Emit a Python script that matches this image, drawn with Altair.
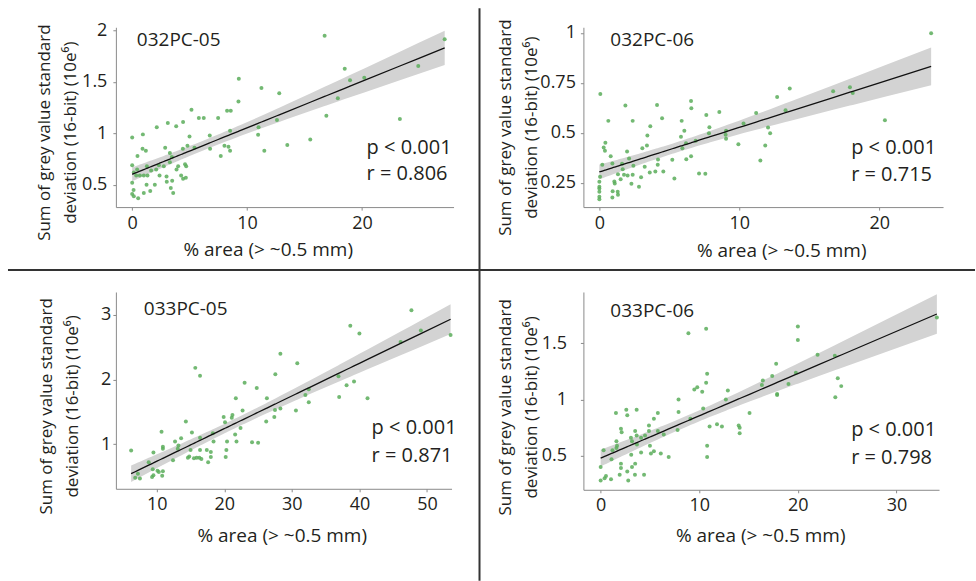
import altair as alt
import pandas as pd

# ---------------- data ----------------
names = ["032PC-05", "032PC-06", "033PC-05", "033PC-06"]
p_texts = ["p < 0.001", "p < 0.001", "p < 0.001", "p < 0.001"]
r_texts = ["r = 0.806", "r = 0.715", "r = 0.871", "r = 0.798"]
x_title = "% area (> ~0.5 mm)"
y_title = ["Sum of grey value standard", "deviation (16-bit) (10e\u2076)"]

x_ticks = [[0, 10, 20], [0, 10, 20], [10, 20, 30, 40, 50], [0, 10, 20, 30]]
y_ticks = [[0.5, 1, 1.5, 2], [0.25, 0.5, 0.75, 1], [1, 2, 3], [0.5, 1, 1.5]]

# 032PC-05
p1_x = [16.75, 27.2, 24.9, 18.5, 18.96, 20.2, 17.9, 16.9, 23.3, 9.28, 11.25, 12.8, 9.25, 12.6,
        11.0, 10.96, 15.5, 13.5, 11.5, 8.26, 8.58, 7.48, 5.16, 5.8, 6.23, 8.52, 6.75, 8.03,
        8.38, 8.52, 7.71, 6.78, 5.42, 4.99, 4.43, 3.83, 3.1, 2.14, 0.93, 0.0, 0.9, 1.19, 0.46,
        2.87, 3.28, 3.45, 4.41, 4.81, 4.6, 4.7, 4.0, 3.86, 3.28, 2.75, 2.32, 2.09, 1.65, 1.28,
        1.33, 1.01, 0.67, 0.43, 0.0, 0.14, 0.35, 0.0, 0.12, 0.0, 0.14, 0.52, 1.01, 1.57, 1.25,
        1.97, 2.38, 2.99, 3.01, 3.48, 3.57, 3.36, 4.26, 4.43, 4.67]
p1_y = [1.948, 1.913, 1.654, 1.628, 1.515, 1.54, 1.34, 1.17, 1.14, 1.53, 1.44, 1.39, 1.31, 1.13,
        1.06, 0.987, 0.94, 0.887, 0.83, 1.22, 1.22, 1.15, 1.23, 1.15, 1.15, 1.026, 0.98, 0.88,
        0.87, 0.83, 0.78, 0.85, 0.86, 0.97, 1.11, 1.07, 1.10, 1.06, 0.99, 0.96, 0.85, 0.83, 0.78,
        0.86, 0.81, 0.77, 0.85, 0.88, 0.70, 0.68, 0.68, 0.65, 0.72, 0.68, 0.69, 0.65, 0.64, 0.68,
        0.59, 0.59, 0.59, 0.65, 0.69, 0.62, 0.59, 0.52, 0.45, 0.41, 0.39, 0.37, 0.42, 0.44, 0.50,
        0.50, 0.59, 0.58, 0.53, 0.54, 0.42, 0.47, 0.59, 0.56, 0.57]

# 032PC-06
p2_x = [23.7, 20.4, 16.7, 17.9, 18.1, 13.6, 12.7, 13.3, 11.2, 10.3, 12.05, 12.2, 11.85, 11.5,
        9.93, 9.05, 9.02, 9.05, 8.57, 7.64, 7.86, 7.83, 6.88, 6.55, 6.57, 5.88, 6.07, 5.83, 6.19,
        5.93, 6.55, 6.21, 7.12, 7.57, 5.36, 5.21, 4.48, 4.12, 3.64, 3.43, 3.4, 3.07, 4.19, 4.17,
        4.57, 4.0, 3.6, 3.24, 2.38, 1.86, 1.98, 2.12, 2.43, 2.29, 2.83, 2.98, 2.38, 2.02, 1.76,
        1.67, 1.62, 1.33, 1.52, 1.07, 0.93, 0.81, 0.64, 0.43, 0.31, 0.4, 0.21, 0.07, 1.1, 0.95,
        1.31, 1.33, 0.93, 0.05, 0.0, 0.0, 0.0, 0.0, 0.0, 0.0]
p2_y = [0.998, 0.563, 0.708, 0.728, 0.70, 0.722, 0.68, 0.613, 0.60, 0.547, 0.527, 0.498, 0.437,
        0.362, 0.443, 0.51, 0.49, 0.47, 0.605, 0.59, 0.528, 0.498, 0.46, 0.66, 0.623, 0.56, 0.51,
        0.48, 0.448, 0.423, 0.383, 0.368, 0.297, 0.295, 0.272, 0.365, 0.573, 0.64, 0.533, 0.487,
        0.437, 0.423, 0.367, 0.34, 0.307, 0.307, 0.302, 0.33, 0.56, 0.637, 0.407, 0.372, 0.335,
        0.245, 0.23, 0.278, 0.29, 0.287, 0.29, 0.318, 0.345, 0.293, 0.268, 0.257, 0.347, 0.383,
        0.56, 0.45, 0.427, 0.41, 0.34, 0.695, 0.247, 0.208, 0.205, 0.19, 0.177, 0.28, 0.255, 0.23,
        0.222, 0.205, 0.18, 0.168]

# 033PC-05
p3_x = [47.7, 38.65, 40.0, 49.1, 53.5, 46.1, 28.3, 30.8, 27.55, 36.9, 39.2, 38.1, 41.2, 37.0,
        32.0, 32.5, 32.5, 15.7, 16.4, 23.0, 24.8, 21.7, 26.3, 30.6, 27.5, 27.4, 28.3, 26.2, 22.7,
        22.4, 21.6, 21.8, 24.1, 25.0, 20.4, 20.3, 20.2, 19.9, 20.1, 21.2, 21.1, 18.4, 18.3, 18.0,
        18.0, 17.4, 17.6, 16.6, 16.4, 16.4, 16.3, 15.9, 15.5, 15.2, 15.0, 14.8, 14.6, 14.3, 13.6,
        13.2, 13.1, 12.7, 12.4, 10.7, 10.9, 10.9, 9.5, 8.8, 9.4, 9.5, 9.3, 10.1, 10.3, 10.9, 10.8,
        6.2, 6.8, 7.5, 7.2]
p3_y = [3.07, 2.83, 2.71, 2.76, 2.69, 2.58, 2.40, 2.25, 2.08, 2.05, 1.97, 1.91, 1.71, 1.73,
        1.76, 1.65, 1.85, 2.18, 2.06, 1.95, 1.87, 1.71, 1.71, 1.52, 1.53, 1.42, 1.55, 1.35, 1.52,
        1.25, 1.15, 1.04, 1.03, 1.02, 1.04, 0.91, 0.80, 1.42, 1.34, 1.45, 1.41, 1.04, 1.17, 0.88,
        0.80, 0.91, 0.72, 0.77, 0.91, 1.10, 0.79, 0.79, 0.78, 1.18, 0.91, 0.81, 0.79, 1.35, 1.09,
        0.98, 0.93, 1.04, 0.75, 1.19, 0.96, 0.93, 0.87, 0.72, 0.61, 0.52, 0.49, 0.59, 0.57, 0.58,
        0.51, 0.90, 0.48, 0.47, 0.54]

# 033PC-06
p4_x = [34.1, 20.0, 20.0, 10.7, 8.9, 22.0, 23.75, 17.8, 17.4, 16.45, 16.35, 19.05, 19.8, 24.05,
        24.4, 23.8, 17.9, 17.9, 10.8, 10.7, 10.3, 9.8, 9.5, 12.9, 12.7, 10.4, 7.9, 7.9, 7.8, 11.05,
        11.8, 12.3, 14.0, 14.1, 14.1, 15.1, 10.8, 10.8, 9.1, 6.9, 6.1, 6.4, 5.8, 5.8, 5.4, 4.9,
        4.9, 5.0, 5.1, 5.4, 4.1, 4.1, 3.65, 3.5, 3.65, 2.6, 2.7, 1.55, 2.06, 2.13, 3.07, 3.18,
        3.68, 3.1, 3.5, 3.48, 3.18, 2.7, 2.8, 4.4, 2.06, 2.06, 1.93, 1.6, 1.6, 1.2, 1.1, 1.05,
        0.54, 0.4, 0.3, 0.0, 0.0, 1.66, 4.5]
p4_y = [1.73, 1.65, 1.53, 1.63, 1.59, 1.40, 1.39, 1.32, 1.21, 1.17, 1.13, 1.14, 1.24, 1.19,
        1.12, 1.02, 1.05, 1.04, 1.23, 1.15, 1.07, 1.11, 1.09, 1.08, 1.00, 0.92, 1.00, 0.89, 0.73,
        0.76, 0.78, 0.76, 0.77, 0.75, 0.70, 0.88, 0.59, 0.49, 0.83, 0.49, 0.52, 0.69, 0.72, 0.88,
        0.83, 0.77, 0.72, 0.59, 0.52, 0.54, 0.53, 0.66, 0.68, 0.72, 0.91, 0.91, 0.86, 0.88, 0.74,
        0.71, 0.66, 0.63, 0.60, 0.51, 0.43, 0.33, 0.40, 0.36, 0.28, 0.33, 0.43, 0.39, 0.33, 0.63,
        0.57, 0.55, 0.47, 0.29, 0.32, 0.30, 0.55, 0.40, 0.28, 0.59, 0.68]

# ---------------- style ----------------
FONT = "Open Sans"
TXT = "#231f20"
AXC = "#8a8a8a"
PT = "#5aad5a"


def regression(ch):
    return (
        ch.transform_joinaggregate(mx="mean(x)", my="mean(y)", n="count()")
        .transform_calculate(
            dxx="(datum.x - datum.mx) * (datum.x - datum.mx)",
            dxy="(datum.x - datum.mx) * (datum.y - datum.my)",
        )
        .transform_joinaggregate(sxx="sum(dxx)", sxy="sum(dxy)")
        .transform_calculate(b="datum.sxy / datum.sxx")
        .transform_calculate(a="datum.my - datum.b * datum.mx")
        .transform_calculate(
            fit="datum.a + datum.b * datum.x",
            res2="pow(datum.y - datum.a - datum.b * datum.x, 2)",
        )
        .transform_joinaggregate(sse="sum(res2)")
        .transform_calculate(
            se="sqrt(datum.sse / (datum.n - 2)) * sqrt(1 / datum.n + datum.dxx / datum.sxx)"
        )
        .transform_calculate(lo="datum.fit - 1.99 * datum.se", hi="datum.fit + 1.99 * datum.se")
    )


def text_layer(s, x, y, size):
    return (
        alt.Chart(pd.DataFrame({"t": [s]}))
        .mark_text(align="left", baseline="alphabetic", font=FONT, fontSize=size, color=TXT)
        .encode(x=alt.value(x), y=alt.value(y), text="t:N")
    )


def panel(i, xs, ys, w, h, xdom, ydom, ytx, yty, ylpad, xtx, xty, lab, pxy, rxy, extra=()):
    df = pd.DataFrame({"x": xs, "y": ys})
    xaxis = alt.Axis(values=x_ticks[i], title=x_title, titleX=xtx, titleY=xty,
                     titleBaseline="alphabetic", titleFontSize=19, labelExpr="'' + datum.value")
    yaxis = alt.Axis(values=y_ticks[i], title=y_title, titleX=ytx, titleY=yty,
                     titleBaseline="alphabetic", titleFontSize=17, titleLineHeight=26,
                     labelPadding=ylpad, labelExpr="'' + datum.value")
    xs_ = alt.Scale(domain=xdom, nice=False, zero=False)
    ys_ = alt.Scale(domain=ydom, nice=False, zero=False)
    X = alt.X("x:Q", scale=xs_, axis=xaxis)
    base = alt.Chart(df)
    reg = regression(base)
    band = reg.mark_area(color="#d3d3d3", opacity=1).encode(
        x=X, y=alt.Y("lo:Q", scale=ys_, axis=yaxis), y2="hi:Q")
    pts = base.mark_circle(size=16, color=PT, opacity=0.85).encode(
        x=X, y=alt.Y("y:Q", scale=ys_, axis=yaxis))
    line = reg.mark_line(color="#111111", strokeWidth=1.3).encode(
        x=X, y=alt.Y("fit:Q", scale=ys_, axis=yaxis))
    layers = [band, pts, line,
              text_layer(names[i], lab[0], lab[1], 19),
              text_layer(p_texts[i], pxy[0], pxy[1], 20),
              text_layer(r_texts[i], rxy[0], rxy[1], 20)]
    layers += list(extra)
    return alt.layer(*layers).properties(width=w, height=h)


one = pd.DataFrame({"k": [0]})
vline = alt.Chart(one).mark_rule(color="#333333", strokeWidth=2).encode(
    x=alt.value(364), y=alt.value(-19), y2=alt.value(554))
hline = alt.Chart(one).mark_rule(color="#333333", strokeWidth=2).encode(
    x=alt.value(-108), x2=alt.value(860), y=alt.value(243))

c1 = panel(0, p1_x, p1_y, 338, 180, [-1.42, 27.97], [0.284, 2.03],
           -66, 105, 6, 152, 48, (21, 19), (251, 127), (251, 153), extra=(vline, hline))
c2 = panel(1, p2_x, p2_y, 360, 180, [-1.14, 24.55], [0.1285, 1.0285],
           -73, 100, 5, 198, 49, (27, 19), (268, 127), (268, 154))
c3 = panel(2, p3_x, p3_y, 336, 197, [3.94, 53.64], [0.309, 3.354],
           -64, 114, 2, 166, 53, (28, 23), (256, 142), (256, 170))
c4 = panel(3, p4_x, p4_y, 356, 198, [-1.75, 34.32], [0.197, 1.958],
           -73, 115, 14, 177, 52, (27, 25), (268, 144), (268, 172))

chart = (
    alt.concat(c1, c2, c3, c4, columns=2, bounds="flush", align="each",
               spacing={"row": 85, "column": 130})
    .properties(padding={"left": 7, "top": 7, "right": 0, "bottom": 0}, background="white")
    .configure_view(stroke=None)
    .configure_axis(grid=False, domainColor=AXC, domainWidth=1, tickColor=AXC, tickSize=3,
                    labelFont=FONT, labelFontSize=18, labelColor=TXT, labelPadding=4,
                    titleFont=FONT, titleColor=TXT, titleFontWeight="normal")
)

chart.save("out.html", embed_options={"renderer": "svg", "actions": False})
